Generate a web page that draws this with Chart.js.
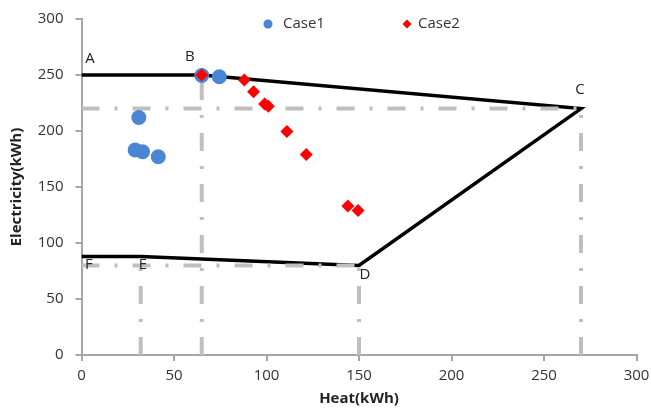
<!DOCTYPE html>
<html>
<head>
<meta charset="utf-8">
<script src="https://cdn.jsdelivr.net/npm/chart.js@4/dist/chart.umd.min.js"></script>
<style>
html,body{margin:0;padding:0;background:#fff;}
#chart{display:block;}
</style>
</head>
<body>
<canvas id="chart" width="651" height="410"></canvas>
<script>
// data
const case1X=[65,74.5,31,29,33,41.5];
const case1Y=[249.5,248.5,212,183,181.5,177];
const case2X=[65,88,93,99,101,111,121.5,144,149.5];
const case2Y=[250,245.5,235,224,222,199.5,179,133,129];

// operating region A-B-C-D-E-F
const boundX=[0,65,270,150,32,0];
const boundY=[250,250,220,80,88,88];

// dash-dot guide lines (null breaks the line)
const guideX=[0,270,null,65,65,null,270,270,null,0,150,null,32,32,null,150,150];
const guideY=[220,220,null,0,250,null,0,220,null,80,80,null,0,88,null,0,80];

const pointNames=["A","B","C","D","E","F"];
const nameX=[4.6,58.6,269.5,153.2,33.2,4];
const nameY=[264.3,266,236.6,71.4,80.4,80.4];

const xTicks=[0,50,100,150,200,250,300];
const yTicks=[0,50,100,150,200,250,300];

const FONT="'Open Sans', 'Liberation Sans', sans-serif";

function pts(xs,ys){
let out=[];
for(let i=0;i<xs.length;i++){
out.push({x:xs[i],y:ys[i]});
}
return out;
}

const labelPlugin={
id:"labels",
afterDatasetsDraw(chart){
const ctx=chart.ctx;
const xs=chart.scales.x, ys=chart.scales.y;
ctx.save();
ctx.font="15px "+FONT;
ctx.fillStyle="#222";
ctx.textAlign="center";
ctx.textBaseline="middle";
for(let i=0;i<pointNames.length;i++){
ctx.fillText(pointNames[i],xs.getPixelForValue(nameX[i]),ys.getPixelForValue(nameY[i]));
}
// legend
const items=[{ds:chart.data.datasets[1],x:268,tx:283},{ds:chart.data.datasets[0],x:407,tx:418}];
ctx.textAlign="left";
items.forEach(it=>{
ctx.fillStyle=it.ds.backgroundColor;
Chart.helpers.drawPoint(ctx,{pointStyle:it.ds.pointStyle,radius:4.5,borderWidth:0},it.x,24);
ctx.fillStyle="#333";
ctx.fillText(it.ds.label,it.tx,24);
});
ctx.restore();
}
};

new Chart(document.getElementById("chart").getContext("2d"),{
type:"scatter",
data:{
datasets:[
{label:"Case2",data:pts(case2X,case2Y),pointStyle:"rectRot",pointRadius:6.5,
backgroundColor:"#ff0000",borderColor:"#ff0000",borderWidth:0},
{label:"Case1",data:pts(case1X,case1Y),pointStyle:"circle",pointRadius:7.5,
backgroundColor:"#4a86d4",borderColor:"#4a86d4",borderWidth:0},
{label:"guides",data:pts(guideX,guideY),showLine:true,spanGaps:false,pointRadius:0,
borderColor:"#bfbfbf",borderWidth:4,borderDash:[18,15,3,15],fill:false},
{label:"region",data:pts(boundX,boundY),showLine:true,pointRadius:0,
borderColor:"#000",borderWidth:3.5,fill:false}
]
},
options:{
responsive:false,
animation:false,
layout:{padding:{top:19,right:14.5,left:0,bottom:0}},
plugins:{legend:{display:false},tooltip:{enabled:false}},
scales:{
x:{
type:"linear",min:0,max:300,
afterBuildTicks(s){s.ticks=xTicks.map(v=>({value:v}));},
afterFit(s){s.height=55;s.paddingLeft=0;s.paddingRight=0;},
grid:{drawOnChartArea:false,drawTicks:true,tickLength:6,color:"#a6a6a6",lineWidth:2},
border:{color:"#a6a6a6",width:2},
ticks:{color:"#333",font:{family:FONT,size:15},padding:6},
title:{display:true,text:"Heat(kWh)",color:"#222",font:{family:FONT,size:15,weight:"bold"},padding:{top:0,bottom:2}}
},
y:{
type:"linear",min:0,max:300,
afterBuildTicks(s){s.ticks=yTicks.map(v=>({value:v}));},
afterFit(s){s.width=81.5;s.paddingTop=0;s.paddingBottom=0;},
grid:{drawOnChartArea:false,drawTicks:true,tickLength:6,color:"#a6a6a6",lineWidth:2},
border:{color:"#a6a6a6",width:2},
ticks:{color:"#333",font:{family:FONT,size:15},padding:12},
title:{display:true,text:"Electricity(kWh)",color:"#222",font:{family:FONT,size:15,weight:"bold"},padding:{top:8,bottom:0}}
}
}
},
plugins:[labelPlugin]
});
</script>
</body>
</html>
